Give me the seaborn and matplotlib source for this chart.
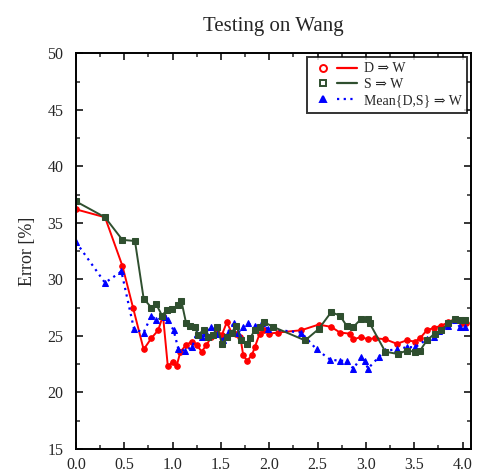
import pandas as pd
import matplotlib
matplotlib.use('Agg')
import matplotlib.pyplot as plt
import seaborn as sns
from matplotlib.lines import Line2D
from matplotlib.legend_handler import HandlerTuple
from matplotlib.ticker import MultipleLocator

# D => W
x_d = [0, 0.30, 0.48, 0.59, 0.70, 0.78, 0.85, 0.90, 0.95, 1.00,
       1.04, 1.08, 1.14, 1.20, 1.25, 1.30, 1.35, 1.40, 1.46, 1.51,
       1.56, 1.61, 1.66, 1.70, 1.73, 1.77, 1.82, 1.85, 1.90, 1.95,
       2.00, 2.09, 2.33, 2.51, 2.64, 2.73, 2.83, 2.87, 2.95, 3.02,
       3.09, 3.20, 3.32, 3.42, 3.51, 3.56, 3.63, 3.70, 3.78, 3.85,
       3.92, 3.99, 4.04]
y_d = [36.2, 35.5, 31.2, 27.5, 23.8, 24.8, 25.5, 26.8, 22.3, 22.7,
       22.3, 23.6, 24.2, 24.5, 24.2, 23.6, 24.2, 24.9, 25.3, 25.1,
       26.2, 25.3, 25.2, 24.9, 23.3, 22.8, 23.3, 24.0, 25.2, 25.5,
       25.2, 25.3, 25.5, 26.0, 25.8, 25.3, 25.2, 24.7, 24.9, 24.7,
       24.8, 24.7, 24.3, 24.6, 24.5, 24.8, 25.5, 25.7, 25.9, 26.2,
       26.5, 26.1, 26.1]

# S => W
x_s = [0, 0.30, 0.48, 0.61, 0.70, 0.78, 0.83, 0.89, 0.94, 0.99,
       1.06, 1.09, 1.14, 1.18, 1.23, 1.26, 1.32, 1.37, 1.42, 1.46,
       1.51, 1.56, 1.61, 1.66, 1.71, 1.77, 1.80, 1.85, 1.90, 1.95,
       2.04, 2.37, 2.51, 2.64, 2.73, 2.80, 2.87, 2.95, 3.02, 3.04,
       3.20, 3.33, 3.42, 3.51, 3.56, 3.63, 3.71, 3.78, 3.85, 3.92,
       3.97, 4.02]
y_s = [36.9, 35.5, 33.5, 33.4, 28.3, 27.5, 27.8, 26.8, 27.3, 27.4,
       27.7, 28.1, 26.1, 25.9, 25.8, 25.1, 25.5, 24.9, 25.1, 25.8,
       24.3, 24.9, 25.3, 25.9, 24.6, 24.3, 24.8, 25.5, 25.8, 26.2,
       25.8, 24.6, 25.6, 27.1, 26.8, 25.9, 25.8, 26.5, 26.5, 26.1,
       23.6, 23.4, 23.7, 23.6, 23.7, 24.6, 25.2, 25.5, 26.1, 26.5,
       26.4, 26.4]

# Mean{D,S} => W
x_m = [0, 0.30, 0.47, 0.60, 0.70, 0.78, 0.83, 0.92, 0.95, 1.01,
       1.06, 1.13, 1.20, 1.25, 1.30, 1.35, 1.40, 1.46, 1.52, 1.57,
       1.63, 1.68, 1.73, 1.78, 1.85, 1.92, 1.99, 2.33, 2.49, 2.63,
       2.73, 2.80, 2.87, 2.95, 2.99, 3.02, 3.13, 3.20, 3.32, 3.42,
       3.51, 3.63, 3.70, 3.76, 3.85, 3.92, 3.97, 4.02]
y_m = [33.3, 29.7, 30.7, 25.6, 25.3, 26.8, 26.4, 26.7, 26.4, 25.5,
       23.8, 23.7, 24.0, 25.2, 24.9, 25.3, 25.8, 25.2, 24.6, 25.3,
       26.1, 25.3, 25.8, 26.1, 25.9, 26.1, 25.6, 25.3, 23.8, 22.9,
       22.8, 22.8, 22.1, 23.1, 22.8, 22.1, 23.1, 23.7, 23.8, 24.0,
       24.0, 24.7, 24.9, 25.4, 25.9, 26.4, 25.8, 25.8]

labels = ['D \u21d2 W', 'S \u21d2 W', 'Mean{D,S} \u21d2 W']

sns.set_style('ticks')
plt.rcParams['font.family'] = ['Liberation Serif', 'DejaVu Serif']

fig = plt.figure(figsize=(4.78, 4.73), dpi=100)
ax = fig.add_axes([0.159, 0.051, 0.826, 0.836])

red, green, blue = '#ff0000', '#2f4f2f', '#0000ff'

df_d = pd.DataFrame({'x': x_d, 'y': y_d})
df_s = pd.DataFrame({'x': x_s, 'y': y_s})
df_m = pd.DataFrame({'x': x_m, 'y': y_m})

sns.lineplot(data=df_d, x='x', y='y', ax=ax, sort=False, estimator=None,
             color=red, lw=1.4, marker='o', ms=4, mec=red, mfc=red)
sns.lineplot(data=df_m, x='x', y='y', ax=ax, sort=False, estimator=None,
             color=blue, lw=1.6, ls=(0, (1, 2)), marker='^', ms=4.5, mec=blue, mfc=blue)
sns.lineplot(data=df_s, x='x', y='y', ax=ax, sort=False, estimator=None,
             color=green, lw=1.4, marker='s', ms=4, mec=green, mfc=green)

ax.set_xlim(0, 4.085)
ax.set_ylim(15, 50)
ax.xaxis.set_major_locator(MultipleLocator(0.5))
ax.xaxis.set_minor_locator(MultipleLocator(0.25))
ax.yaxis.set_major_locator(MultipleLocator(5))
ax.yaxis.set_minor_locator(MultipleLocator(2.5))
ax.xaxis.set_major_formatter(matplotlib.ticker.FormatStrFormatter('%.1f'))
ax.tick_params(which='both', direction='in', top=True, right=True, labelsize=11.5)
ax.tick_params(which='major', length=5, width=1.3)
ax.tick_params(axis='y', which='major', pad=9)
ax.tick_params(axis='x', which='major', pad=6)
ax.tick_params(which='minor', length=3, width=1.1)
for s in ax.spines.values():
    s.set_linewidth(1.4)
    s.set_color('black')

ax.set_xlabel('')
ax.set_ylabel('Error [%]', fontsize=13, labelpad=8)
ax.set_title('Testing on Wang', fontsize=15, pad=16)

# legend: open marker followed by a short line, like the original
handles = []
for c, m, ls in [(red, 'o', '-'), (green, 's', '-'), (blue, '^', (0, (1, 2)))]:
    mk = Line2D([], [], ls='none', marker=m, ms=5, mec=c,
                mfc='none' if m != '^' else c, mew=1.4)
    ln = Line2D([], [], color=c, lw=1.6, ls=ls)
    handles.append((mk, ln))
leg = ax.legend(handles, labels, loc='upper right', fontsize=10,
                handler_map={tuple: HandlerTuple(ndivide=None, pad=0.3)},
                handlelength=3.2, frameon=True, fancybox=False,
                borderaxespad=0.25, labelspacing=0.2, handletextpad=0.5)
leg.get_frame().set_edgecolor('black')
leg.get_frame().set_linewidth(1.4)

fig.savefig('out.png', dpi=100)
